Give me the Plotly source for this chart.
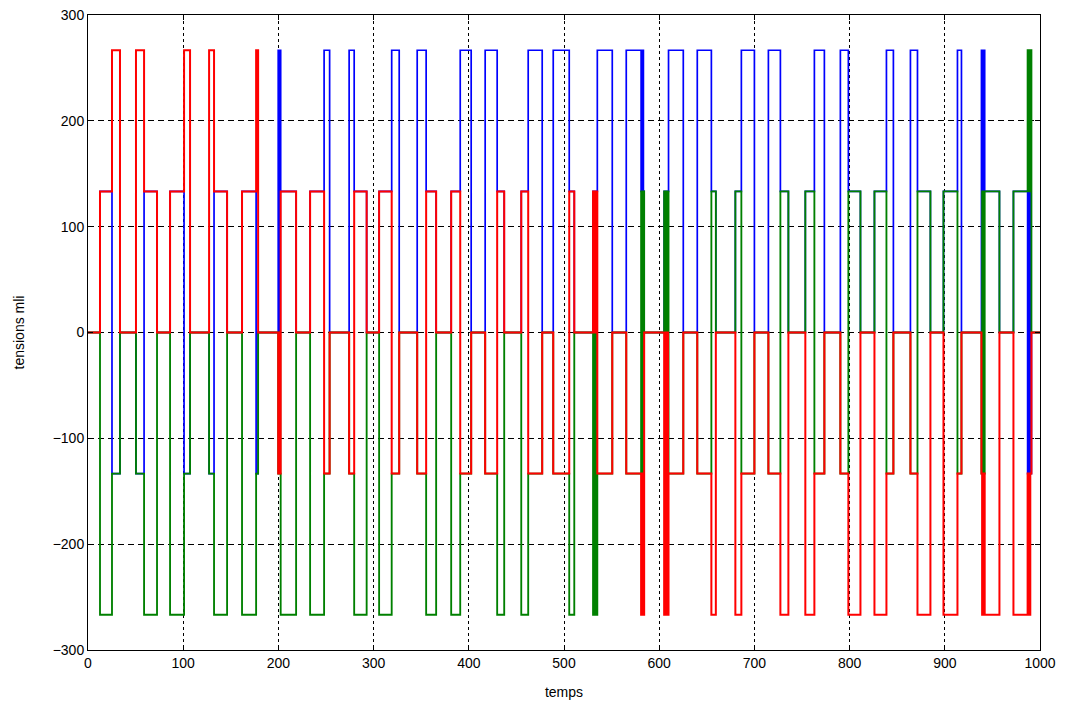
import plotly.graph_objects as go

# switching instants (temps) and the level of each phase voltage after each instant
t_switch = [0, 12.6, 25.2, 33.6, 50.4, 58.9, 72.5, 86.2, 100.9, 107.2, 127.2, 132.4, 146.1,
            161.8, 176.6, 178.7, 199.8, 200.4, 201.0, 201.6, 202.0, 202.4, 218.6, 233.3,
            248.0, 253.8, 274.3, 279.6, 292.7, 305.8, 319.0, 326.9, 345.8, 355.2, 365.7,
            381.5, 391.0, 402.5, 417.2, 429.8, 437.2, 455.1, 462.4, 477.1, 488.7, 505.5,
            510.8, 530.5, 531.2, 531.9, 532.6, 533.3, 534.0, 534.5, 535.0, 550.7, 565.4,
            581.0, 581.6, 582.2, 582.8, 583.4, 584.2, 605.2, 605.9, 606.6, 607.3, 608.0,
            608.7, 609.3, 609.8, 625.3, 640.0, 654.8, 659.5, 680.0, 686.3, 700.0, 714.7,
            727.3, 735.7, 753.5, 763.0, 773.5, 790.3, 798.7, 811.4, 826.1, 838.7, 846.0,
            863.9, 871.3, 884.9, 898.6, 913.3, 917.5, 938.5, 939.2, 939.9, 940.6, 941.3,
            941.9, 957.4, 972.1, 987.0, 987.7, 988.4, 989.1, 989.8, 991.0, 1000]

v_blue = [0, 133.3, -133.3, 0, -133.3, 133.3, 0, 133.3, -133.3, 0, -133.3, 133.3, 0,
          133.3, -133.3, 0, 266.7, 0, 266.7, 0, 266.7, 133.3, 0, 133.3,
          266.7, 0, 266.7, 133.3, 0, 133.3, 266.7, 0, 266.7, 133.3, 0,
          133.3, 266.7, 0, 266.7, 133.3, 0, 133.3, 266.7, 0, 266.7, 133.3,
          0, 133.3, 0, 133.3, 0, 133.3, 0, 133.3, 266.7, 0, 266.7,
          133.3, 266.7, 133.3, 266.7, 133.3, 0, 133.3, 0, 133.3, 0, 133.3,
          0, 133.3, 266.7, 0, 266.7, 133.3, 0, 133.3, 266.7, 0, 266.7,
          133.3, 0, 133.3, 266.7, 0, 266.7, 133.3, 0, 133.3, 266.7, 0,
          266.7, 133.3, 0, 133.3, 266.7, 0, 266.7, 133.3, 266.7, 133.3, 266.7,
          133.3, 0, 133.3, -133.3, 133.3, -133.3, 133.3, -133.3, 0, 0]

v_red = [0, 133.3, 266.7, 0, 266.7, 133.3, 0, 133.3, 266.7, 0, 266.7, 133.3, 0,
         133.3, 266.7, 0, -133.3, 0, -133.3, 0, -133.3, 133.3, 0, 133.3,
         -133.3, 0, -133.3, 133.3, 0, 133.3, -133.3, 0, -133.3, 133.3, 0,
         133.3, -133.3, 0, -133.3, 133.3, 0, 133.3, -133.3, 0, -133.3, 133.3,
         0, 133.3, 0, 133.3, 0, 133.3, 0, 133.3, -133.3, 0, -133.3,
         -266.7, -133.3, -266.7, -133.3, -266.7, 0, -266.7, 0, -266.7, 0, -266.7,
         0, -266.7, -133.3, 0, -133.3, -266.7, 0, -266.7, -133.3, 0, -133.3,
         -266.7, 0, -266.7, -133.3, 0, -133.3, -266.7, 0, -266.7, -133.3, 0,
         -133.3, -266.7, 0, -266.7, -133.3, 0, -133.3, -266.7, -133.3, -266.7, -133.3,
         -266.7, 0, -266.7, -133.3, -266.7, -133.3, -266.7, -133.3, 0, 0]

v_green = [0, -266.7, -133.3, 0, -133.3, -266.7, 0, -266.7, -133.3, 0, -133.3, -266.7, 0,
           -266.7, -133.3, 0, -133.3, 0, -133.3, 0, -133.3, -266.7, 0, -266.7,
           -133.3, 0, -133.3, -266.7, 0, -266.7, -133.3, 0, -133.3, -266.7, 0,
           -266.7, -133.3, 0, -133.3, -266.7, 0, -266.7, -133.3, 0, -133.3, -266.7,
           0, -266.7, 0, -266.7, 0, -266.7, 0, -266.7, -133.3, 0, -133.3,
           133.3, -133.3, 133.3, -133.3, 133.3, 0, 133.3, 0, 133.3, 0, 133.3,
           0, 133.3, -133.3, 0, -133.3, 133.3, 0, 133.3, -133.3, 0, -133.3,
           133.3, 0, 133.3, -133.3, 0, -133.3, 133.3, 0, 133.3, -133.3, 0,
           -133.3, 133.3, 0, 133.3, -133.3, 0, -133.3, 133.3, -133.3, 133.3, -133.3,
           133.3, 0, 133.3, 266.7, 133.3, 266.7, 133.3, 266.7, 0, 0]

x_ticks = [0, 100, 200, 300, 400, 500, 600, 700, 800, 900, 1000]
y_ticks = [-300, -200, -100, 0, 100, 200, 300]

fig = go.Figure()
for vals, col, w in [(v_blue, "#0000ff", 1.7), (v_green, "#008000", 1.85), (v_red, "#ff0000", 2.0)]:
    fig.add_trace(go.Scatter(x=t_switch, y=vals, mode="lines",
                             line=dict(color=col, width=w, shape="hv"),
                             showlegend=False, hoverinfo="skip"))

font = dict(family="Liberation Sans, Arial, sans-serif", size=14, color="#000000")
fig.update_layout(
    width=1065, height=706,
    margin=dict(l=88, r=25, t=15, b=56, autoexpand=False),
    paper_bgcolor="white", plot_bgcolor="white",
    font=font,
)
fig.update_xaxes(range=[0, 1000], tickvals=x_ticks, ticks="inside", ticklen=5,
                 tickcolor="black", showline=True, linecolor="black", linewidth=1,
                 mirror="ticks", showgrid=True, gridcolor="black", gridwidth=1,
                 griddash="3px,3px", zeroline=False, automargin=False,
                 title=dict(text="temps", font=font, standoff=17))
fig.update_yaxes(range=[-300, 300], tickvals=y_ticks, ticks="inside", ticklen=5,
                 tickcolor="black", showline=True, linecolor="black", linewidth=1,
                 mirror="ticks", showgrid=True, gridcolor="black", gridwidth=1,
                 griddash="6px,4px", zeroline=False, automargin=False,
                 title=dict(text="tensions mli", font=font, standoff=24))

fig.write_html("out.html", config={"displayModeBar": False},
               post_script="document.body.style.margin='0px';")
